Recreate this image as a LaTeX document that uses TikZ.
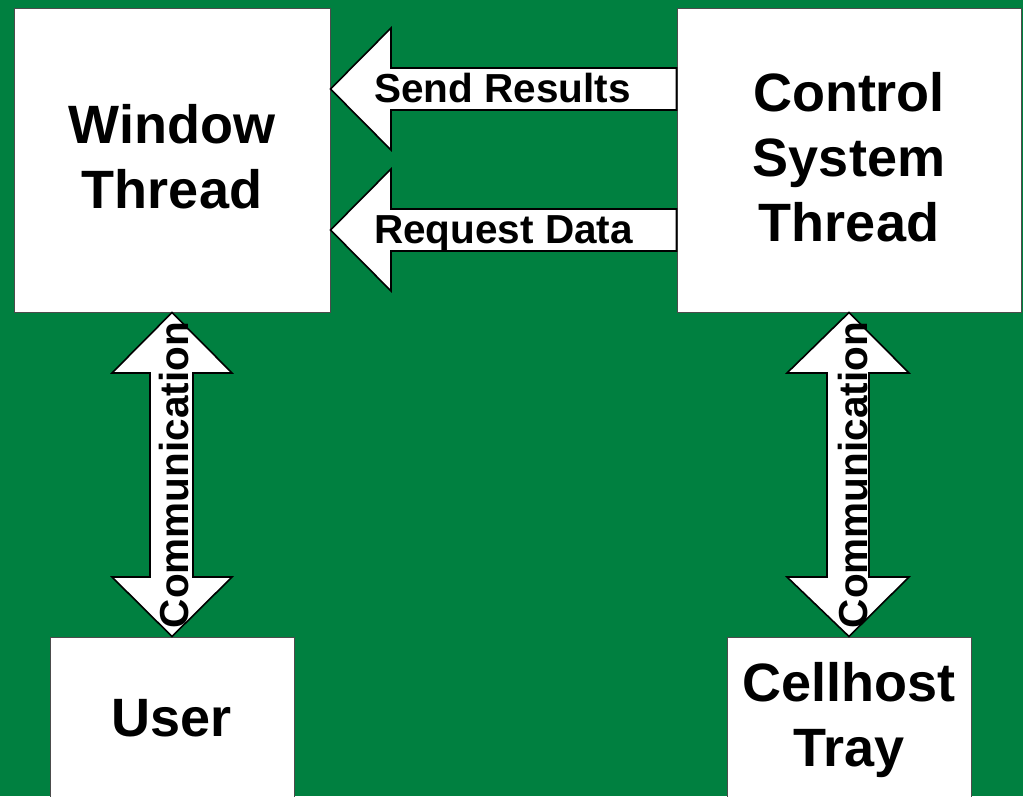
\documentclass[tikz,border=0pt]{standalone}
\usepackage{fontspec}
\setmainfont{Liberation Sans}
\definecolor{bg}{RGB}{0,128,64}
\begin{document}
\begin{tikzpicture}[x=1pt,y=-1pt,
  box/.style={draw=black!70, fill=white, line width=1pt, inner sep=0pt,
    align=center, font=\fontsize{54}{64}\selectfont\bfseries},
  boxtext/.style={inner sep=0pt, align=center, font=\fontsize{54}{65}\selectfont\bfseries},
  blockarrow/.style={draw=black, fill=white, line width=1.6pt, line join=miter},
  arrowlabel/.style={inner sep=0pt, font=\fontsize{40.5}{48}\selectfont\bfseries}]
  % background
  \fill[bg] (0,0) rectangle (1023,796);
  \useasboundingbox (0,0) rectangle (1023,796);
  \clip (0,0) rectangle (1023,796);

  % thread and endpoint boxes
  \node[box, minimum width=316pt, minimum height=304pt] (win) at (172,160) {};
  \node[box, minimum width=344pt, minimum height=304pt] (ctrl) at (849,160) {};
  \node[box, minimum width=244pt, minimum height=164pt] (user) at (172,719) {};
  \node[box, minimum width=244pt, minimum height=164pt] (cell) at (849,719) {};
  \node[boxtext] (winT) at (172,157) {Window\\Thread};
  \node[boxtext] (ctrlT) at (849,157) {Control\\System\\Thread};
  \node[boxtext] (userT) at (172,718) {User};
  \node[boxtext] (cellT) at (849,720) {Cellhost\\Tray};

  % messages from the control thread to the window thread
  \draw[blockarrow] (win.east |- 0,89) -- (391,28) -- (391,68) -- (ctrl.west |- 0,68)
    -- (ctrl.west |- 0,110) -- (391,110) -- (391,150) -- cycle;
  \draw[blockarrow] (win.east |- 0,230) -- (391,169) -- (391,209) -- (ctrl.west |- 0,209)
    -- (ctrl.west |- 0,251) -- (391,251) -- (391,291) -- cycle;
  \node[arrowlabel, anchor=base west] (send) at (374,102) {Send Results};
  \node[arrowlabel, anchor=base west] (req) at (374,243) {Request Data};

  % two-way links to the user and to the cellhost tray
  \draw[blockarrow] (win.south) -- (232,373) -- (193,373) -- (193,577) -- (232,577)
    -- (user.north) -- (112,577) -- (150,577) -- (150,373) -- (112,373) -- cycle;
  \draw[blockarrow] (ctrl.south) -- (909,373) -- (869,373) -- (869,577) -- (909,577)
    -- (cell.north) -- (787,577) -- (827,577) -- (827,373) -- (787,373) -- cycle;
  \node[arrowlabel, rotate=90] (comL) at (174,475) {Communication};
  \node[arrowlabel, rotate=90] (comR) at (853,475) {Communication};
\end{tikzpicture}
\end{document}
